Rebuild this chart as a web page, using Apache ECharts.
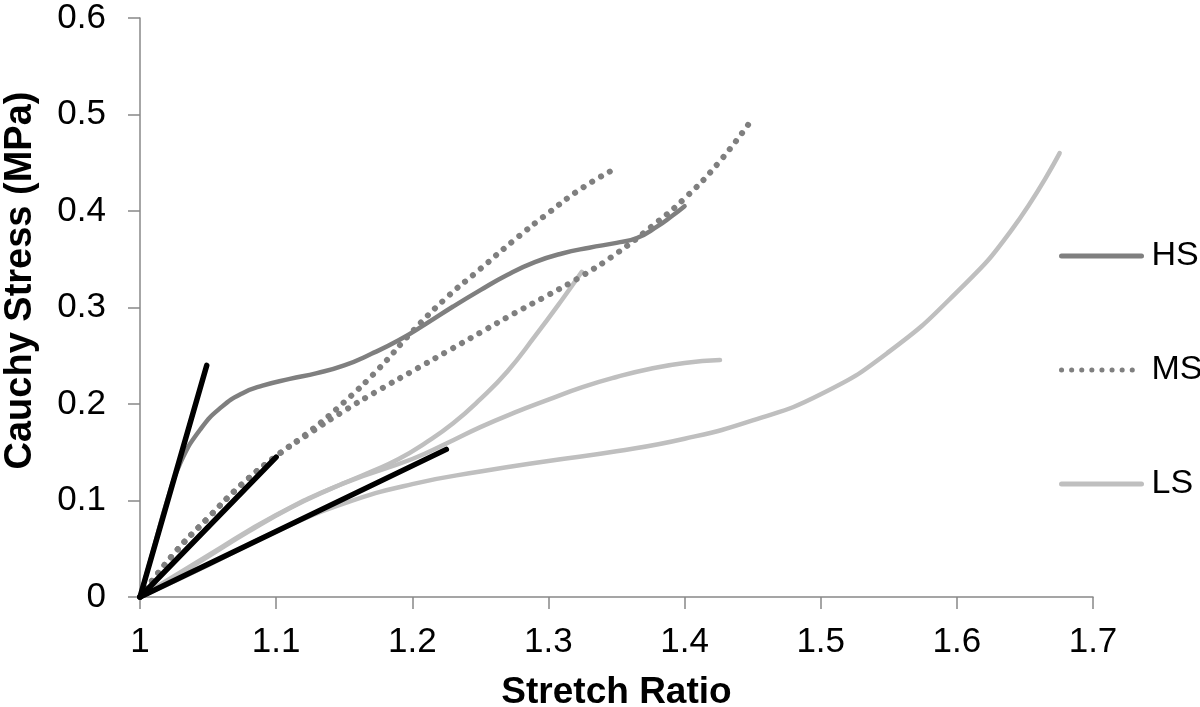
<!DOCTYPE html>
<html>
<head>
<meta charset="utf-8">
<script src="https://cdn.jsdelivr.net/npm/echarts@6/dist/echarts.min.js"></script>
<style>
  html, body { margin: 0; padding: 0; background: #fff; }
  #chart { width: 1200px; height: 707px; }
</style>
</head>
<body>
<div id="chart"></div>
<script>
// stretch ratio / cauchy stress pairs
const hsCurve = [
  [1.0, 0], [1.01, 0.05], [1.02, 0.10], [1.03, 0.14], [1.045, 0.175], [1.06, 0.197],
  [1.075, 0.211], [1.09, 0.219], [1.11, 0.226], [1.13, 0.232], [1.15, 0.240], [1.17, 0.252],
  [1.19, 0.266], [1.21, 0.283], [1.23, 0.301], [1.25, 0.318], [1.27, 0.334], [1.29, 0.347],
  [1.31, 0.356], [1.33, 0.362], [1.35, 0.367], [1.365, 0.372], [1.38, 0.384], [1.39, 0.394],
  [1.40, 0.405]
];

const msUpper = [
  [1.0, 0], [1.025, 0.045], [1.05, 0.082], [1.075, 0.117], [1.10, 0.146], [1.125, 0.172],
  [1.15, 0.202], [1.175, 0.236], [1.20, 0.275], [1.225, 0.310], [1.25, 0.340],
  [1.275, 0.370], [1.30, 0.398], [1.325, 0.424], [1.348, 0.443]
];

const msLower = [
  [1.0, 0], [1.025, 0.045], [1.05, 0.082], [1.075, 0.117], [1.10, 0.146], [1.125, 0.170],
  [1.15, 0.193], [1.175, 0.214], [1.20, 0.234], [1.225, 0.254], [1.25, 0.274],
  [1.275, 0.294], [1.30, 0.313], [1.325, 0.333], [1.35, 0.356], [1.375, 0.383],
  [1.40, 0.413], [1.425, 0.450], [1.449, 0.494]
];

const lsSteep = [
  [1.0, 0], [1.02, 0.016], [1.05, 0.042], [1.08, 0.068], [1.11, 0.092], [1.14, 0.112],
  [1.17, 0.130], [1.19, 0.143], [1.21, 0.160], [1.23, 0.180], [1.25, 0.205],
  [1.27, 0.234], [1.29, 0.270], [1.31, 0.308], [1.3245, 0.337]
];

const lsMid = [
  [1.0, 0], [1.05, 0.043], [1.10, 0.085], [1.15, 0.118], [1.20, 0.143], [1.225, 0.159],
  [1.25, 0.176], [1.275, 0.191], [1.30, 0.2045], [1.325, 0.2175], [1.35, 0.228],
  [1.375, 0.2365], [1.40, 0.2425], [1.426, 0.2455]
];

const lsLong = [
  [1.0, 0], [1.05, 0.033], [1.10, 0.068], [1.15, 0.097], [1.20, 0.117], [1.25, 0.130],
  [1.30, 0.141], [1.35, 0.151], [1.40, 0.164], [1.45, 0.183], [1.50, 0.210],
  [1.55, 0.254], [1.60, 0.316], [1.64, 0.380], [1.6755, 0.460]
];

// linear fits (black)
const fitSteep = [[1.0, 0], [1.049, 0.240]];
const fitMid = [[1.0, 0], [1.10, 0.145]];
const fitLow = [[1.0, 0], [1.225, 0.153]];

const xTicks = [1, 1.1, 1.2, 1.3, 1.4, 1.5, 1.6, 1.7];
const yTicks = [0, 0.1, 0.2, 0.3, 0.4, 0.5, 0.6];

const FONT = '"Liberation Sans", Arial, sans-serif';
const AXIS_GREY = '#888888';

const chart = echarts.init(document.getElementById('chart'));

function curve(name, data, color, dotted) {
  return {
    name: name,
    type: 'line',
    data: data,
    smooth: 0.5,
    symbol: 'none',
    silent: true,
    lineStyle: dotted
      ? { color: color, width: 6, type: [0.1, 10], cap: 'round' }
      : { color: color, width: 4.5, cap: 'round' },
    itemStyle: { color: color },
    z: dotted ? 3 : 2
  };
}

function fitLine(data) {
  return {
    name: 'fit',
    type: 'line',
    data: data,
    symbol: 'none',
    silent: true,
    lineStyle: { color: '#000', width: 5.5, cap: 'round' },
    z: 5
  };
}

const option = {
  animation: false,
  backgroundColor: '#fff',
  grid: {
    left: 140, right: 107, top: 18, bottom: 110,
    containLabel: false,
    outerBoundsMode: 'none'
  },
  legend: {
    data: ['HS', 'MS', 'LS'],
    orient: 'vertical',
    left: 1054,
    top: 234,
    itemWidth: 80,
    itemHeight: 34,
    itemGap: 80,
    itemStyle: { opacity: 0 },
    lineStyle: { width: 5, cap: 'round' },
    textStyle: { fontFamily: FONT, fontSize: 34, color: '#000', padding: [0, 0, 0, 5] },
    selectedMode: false
  },
  xAxis: {
    type: 'value',
    min: 1,
    max: 1.7,
    interval: 0.1,
    name: 'Stretch Ratio',
    nameLocation: 'middle',
    nameGap: 77,
    nameTextStyle: { fontFamily: FONT, fontSize: 37, fontWeight: 'bold', color: '#000' },
    axisLine: { show: true, lineStyle: { color: AXIS_GREY, width: 1.5 } },
    axisTick: { show: true, inside: false, length: 12, lineStyle: { color: AXIS_GREY, width: 1.5 } },
    axisLabel: {
      fontFamily: FONT, fontSize: 35, color: '#000', margin: 28,
      formatter: v => {
        const t = xTicks.find(k => Math.abs(k - v) < 1e-6);
        return t === undefined ? '' : String(t);
      }
    },
    splitLine: { show: false }
  },
  yAxis: {
    type: 'value',
    min: 0,
    max: 0.6,
    interval: 0.1,
    name: 'Cauchy Stress (MPa)',
    nameLocation: 'middle',
    nameGap: 100,
    nameTextStyle: {
      fontFamily: FONT, fontSize: 38, fontWeight: 'bold', color: '#000',
      padding: [0, 0, 0, 54]
    },
    axisLine: { show: true, lineStyle: { color: AXIS_GREY, width: 1.5 } },
    axisTick: { show: true, inside: false, length: 12, lineStyle: { color: AXIS_GREY, width: 1.5 } },
    axisLabel: {
      fontFamily: FONT, fontSize: 35, color: '#000', margin: 34,
      formatter: v => {
        const t = yTicks.find(k => Math.abs(k - v) < 1e-6);
        return t === undefined ? '' : String(t);
      }
    },
    splitLine: { show: false }
  },
  series: [
    curve('HS', hsCurve, '#7f7f7f', false),
    curve('MS', msUpper, '#7f7f7f', true),
    curve('MS', msLower, '#7f7f7f', true),
    curve('LS', lsSteep, '#bfbfbf', false),
    curve('LS', lsMid, '#bfbfbf', false),
    curve('LS', lsLong, '#bfbfbf', false),
    fitLine(fitSteep),
    fitLine(fitMid),
    fitLine(fitLow)
  ]
};

chart.setOption(option);
</script>
</body>
</html>
